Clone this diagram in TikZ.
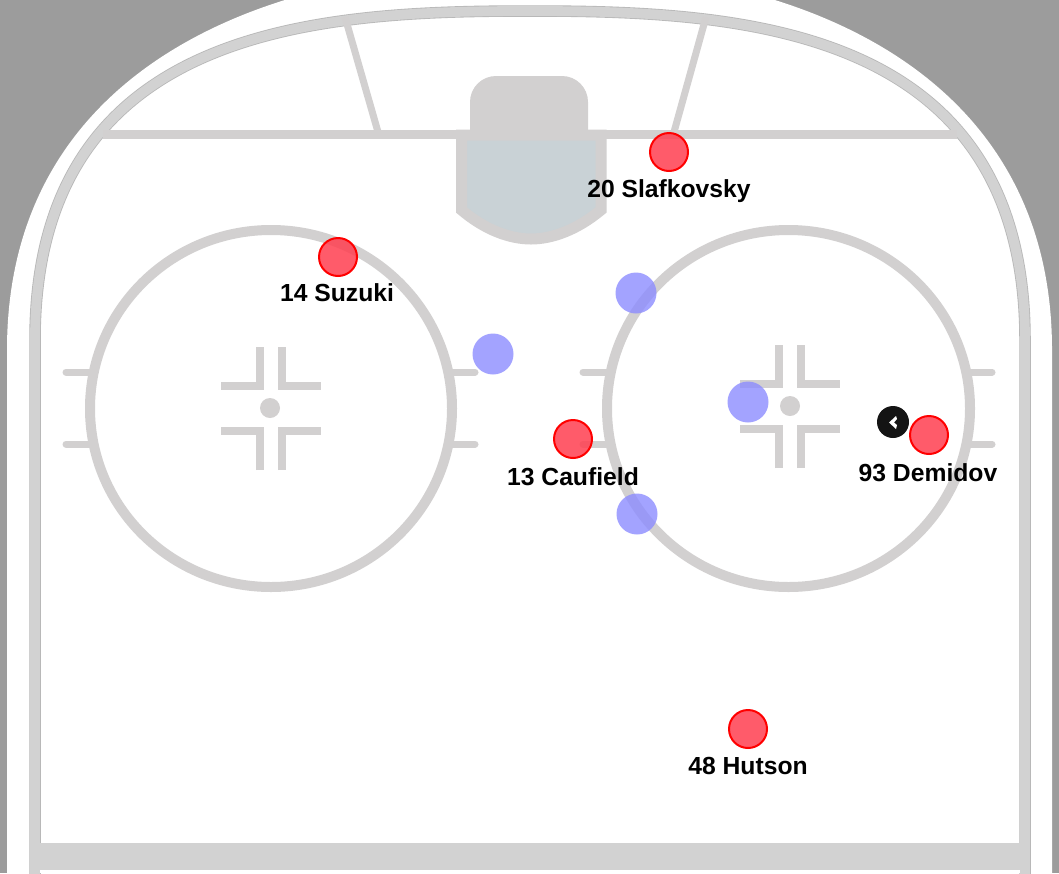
\documentclass[tikz,border=0pt]{standalone}
\usepackage{fontspec}
\setmainfont{Liberation Sans}
\definecolor{rinkbg}{HTML}{9C9C9C}
\definecolor{rinkline}{HTML}{D2D0D0}
\definecolor{boardedge}{HTML}{B8B8B8}
\definecolor{boardfill}{HTML}{D2D2D2}
\definecolor{creasefill}{HTML}{C9D2D6}
\definecolor{foe}{HTML}{8C8CFF}
\definecolor{mate}{HTML}{FF3F50}
\tikzset{
  x=1pt,y=-1pt,
  rinkstroke/.style={draw=rinkline,line width=10pt},
  hashmark/.style={draw=rinkline,line width=7pt,line cap=round},
  markbar/.style={draw=rinkline,line width=8pt,miter limit=10},
  skater/.style={circle,draw=red,line width=2pt,fill=mate,fill opacity=.85,minimum size=38pt,inner sep=0pt},
  rival/.style={circle,fill=foe,fill opacity=.8,minimum size=41pt,inner sep=0pt},
  namelabel/.style={font=\fontsize{24.7}{26}\selectfont\bfseries,text=black,inner sep=0pt,anchor=base}
}
\newcommand{\boardline}{(35,900) -- (35,340) .. controls (35,25) and (320,11) .. (530,11) .. controls (740,11) and (1025,25) .. (1025,340) -- (1025,900)}
\begin{document}
\begin{tikzpicture}
\useasboundingbox (0,0) rectangle (1059,873);
\clip (0,0) rectangle (1059,873);
\fill[rinkbg] (0,0) rectangle (1059,873);
\fill[white] (7,900) -- (7,350) .. controls (7,40) and (320,-40) .. (530,-30) .. controls (740,-40) and (1052,40) .. (1052,350) -- (1052,900) -- cycle;
% boards
\draw[boardedge,line width=11.5pt] \boardline;
\draw[boardfill,line width=9.8pt] \boardline;
% goal and trapezoid lines
\draw[rinkstroke,line width=7pt] (345,17) -- (378,132);
\draw[rinkstroke,line width=7pt] (706,17) -- (674,132);
\draw[rinkstroke,line width=9pt] (103,134.5) -- (957,134.5);
\fill[rinkline] (470,132) -- (470,102) arc[start angle=180,end angle=270,radius=26] -- (562,76) arc[start angle=270,end angle=360,radius=26] -- (588,132) -- cycle;
\draw[rinkstroke,line width=11pt,fill=creasefill] (461.5,135) -- (461.5,210) .. controls (485,230) and (510,239) .. (531,239) .. controls (552,239) and (577,230) .. (601,210) -- (601,135) -- cycle;
% face-off circles
\draw[rinkstroke] (271,408.5) ellipse[x radius=181,y radius=178.5];
\draw[rinkstroke] (788.5,408.5) ellipse[x radius=181.5,y radius=178.5];
% hash marks
\draw[hashmark] (66,372) -- (90,372);
\draw[hashmark] (66,444) -- (90,444);
\draw[hashmark] (452,372) -- (475,372);
\draw[hashmark] (452,444) -- (475,444);
\draw[hashmark] (583,372) -- (607,372);
\draw[hashmark] (583,444) -- (607,444);
\draw[hashmark] (970,372) -- (992,372);
\draw[hashmark] (970,444) -- (992,444);
% left face-off dot and marks
\fill[rinkline] (270,408) circle[radius=10];
\draw[markbar] (260,347) -- (260,385.5) -- (221,385.5);
\draw[markbar] (282,347) -- (282,385.5) -- (321,385.5);
\draw[markbar] (260,470) -- (260,431) -- (221,431);
\draw[markbar] (282,470) -- (282,431) -- (321,431);
% right face-off dot and marks
\fill[rinkline] (790,406) circle[radius=10];
\draw[markbar] (779,345) -- (779,383.5) -- (740,383.5);
\draw[markbar] (801,345) -- (801,383.5) -- (840,383.5);
\draw[markbar] (779,468) -- (779,429) -- (740,429);
\draw[markbar] (801,468) -- (801,429) -- (840,429);
% opponents
\node[rival] (o1) at (493,354) {};
\node[rival] (o2) at (636,293) {};
\node[rival] (o3) at (748,402) {};
\node[rival] (o4) at (637,514) {};
% puck
\fill[black!92] (893,422) circle[radius=16];
\fill[white] (896,416) -- (889,422.5) -- (896,429) -- (897,425) -- (894,422.5) -- (897,419) -- cycle;
% players
\node[skater] (p14) at (338,257) {};
\node[skater] (p20) at (669,152) {};
\node[skater] (p13) at (573,439) {};
\node[skater] (p93) at (929,435) {};
\node[skater] (p48) at (748,729) {};
\node[namelabel] (l14) at (337,301) {14 Suzuki};
\node[namelabel] (l20) at (669,197) {20 Slafkovsky};
\node[namelabel] (l13) at (573,485) {13 Caufield};
\node[namelabel] (l93) at (928,481) {93 Demidov};
\node[namelabel] (l48) at (748,774) {48 Hutson};
% bottom band
\fill[boardfill] (30,843) rectangle (1030,873);
\fill[white] (40,870) rectangle (1020,873);
\end{tikzpicture}
\end{document}
